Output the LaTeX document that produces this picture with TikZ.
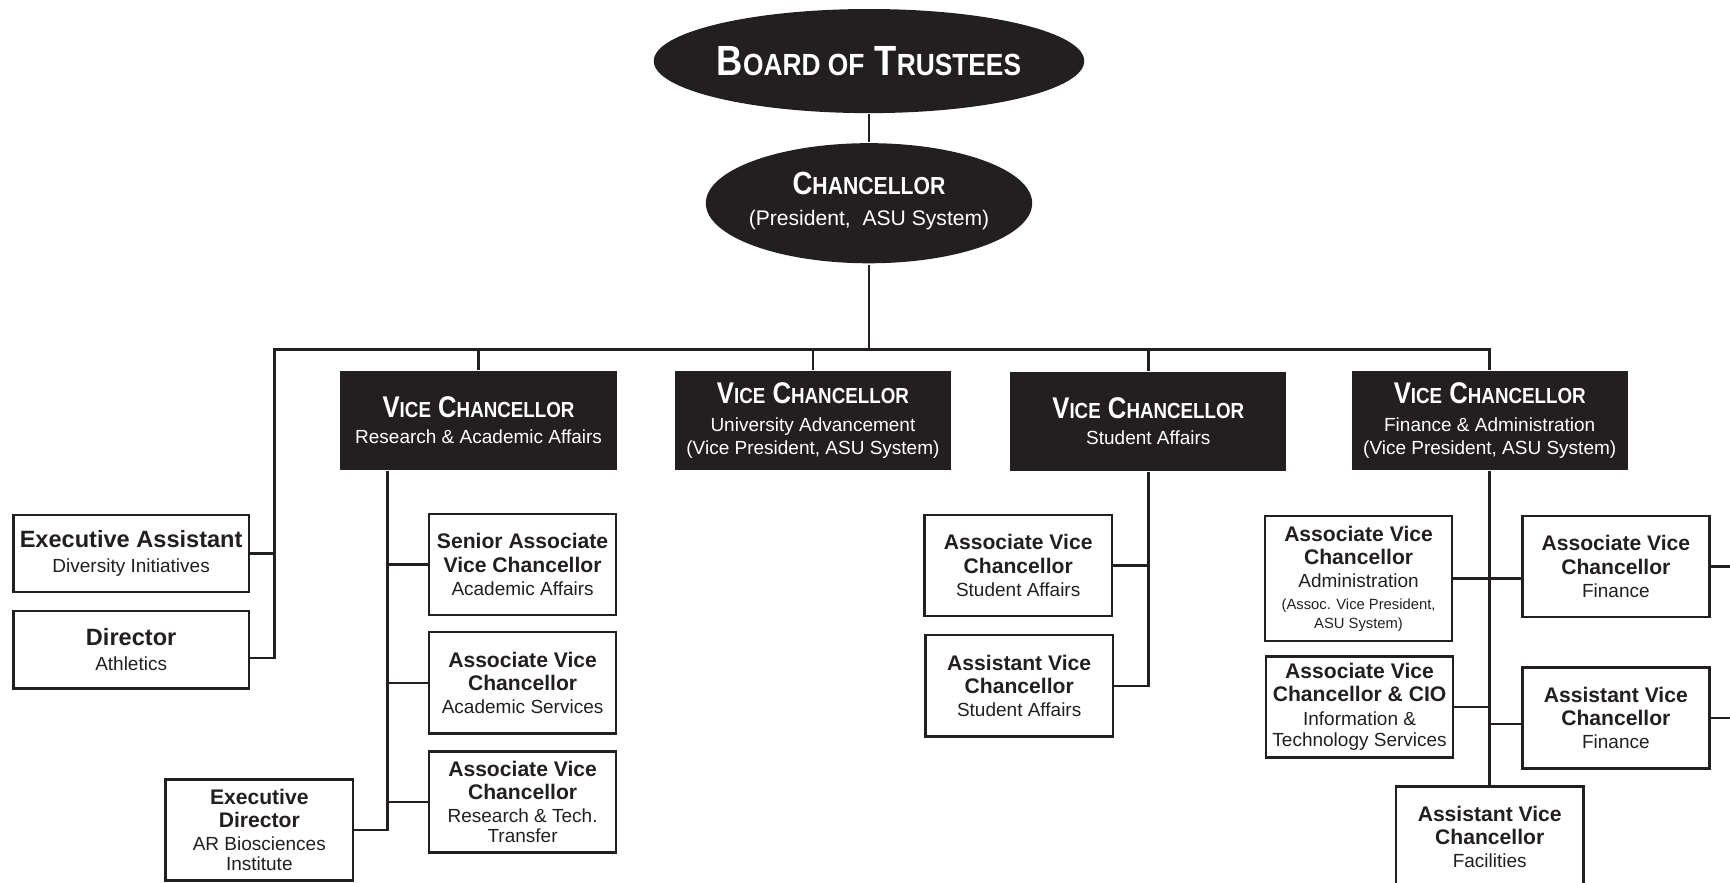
\documentclass[tikz,border=0pt]{standalone}
\usepackage{fontspec}
\setmainfont{Liberation Sans}
\newfontfamily\condsf[FakeStretch=0.86]{Liberation Sans}
\usepackage{tikz}
\usetikzlibrary{shapes.geometric}
\definecolor{ink}{RGB}{35,31,32}
\newcommand{\smc}[2]{{\fontsize{#1}{#1}\selectfont #2}}
\newcommand{\vctitle}{{\condsf\bfseries\fontsize{8.5}{9}\selectfont V\smc{6.2}{ICE} C\smc{6.2}{HANCELLOR}}}
\newcommand{\hd}[2][6]{{\fontsize{#1}{7}\selectfont\bfseries #2}}

\begin{document}
\begin{tikzpicture}[color=ink, line width=0.25mm,
 head/.style={ellipse, fill=ink, text=white, inner sep=0pt, inner xsep=-4mm, align=center},
 vcbox/.style={rectangle, fill=ink, text=white, inner sep=0pt, minimum width=2.76cm,
   minimum height=0.98cm, align=center, font=\fontsize{5.4}{6.6}\selectfont},
 unit/.style={draw, rectangle, fill=white, inner sep=0pt, minimum width=1.87cm,
   minimum height=1.01cm, align=center, font=\fontsize{5.4}{6.6}\selectfont}]
\useasboundingbox (0, 0) rectangle (17.28, -8.81);
% top
\node[head, minimum width=4.30cm, minimum height=1.04cm] (board) at (8.68, -0.61)
 {{\condsf\bfseries\fontsize{12}{13}\selectfont B\smc{8.7}{OARD OF} T\smc{8.7}{RUSTEES}}};
\node[head, minimum width=3.26cm, minimum height=1.20cm, font=\fontsize{6}{8}\selectfont] (chanc) at (8.68, -2.03)
 {{\condsf\bfseries\fontsize{9.1}{10}\selectfont C\smc{7}{HANCELLOR}}\\[1pt](President,\ \ ASU System)\\[-5.5pt]};
% vice chancellors
\node[vcbox] (vcra) at (4.78, -4.20) {\vctitle\\[0.8pt]Research \& Academic Affairs};
\node[vcbox] (vcua) at (8.12, -4.20) {\vctitle\\[1.2pt]University Advancement\\(Vice President, ASU System)};
\node[vcbox] (vcsa) at (11.47, -4.21) {\vctitle\\[0.8pt]Student Affairs};
\node[vcbox] (vcfa) at (14.88, -4.20) {\vctitle\\[1.2pt]Finance \& Administration\\(Vice President, ASU System)};
% left of the bus
\node[unit, minimum width=2.35cm, minimum height=0.77cm] (exasst) at (1.31, -5.53)
 {\hd[6.7]{Executive Assistant}\\[0.5pt]Diversity Initiatives};
\node[unit, minimum width=2.35cm, minimum height=0.77cm] (dirath) at (1.31, -6.49)
 {\hd[6.7]{Director}\\[0.5pt]Athletics};
% research & academic affairs
\node[unit] (savc) at (5.22, -5.64) {\hd{Senior Associate}\\\hd{Vice Chancellor}\\Academic Affairs};
\node[unit] (avcacad) at (5.22, -6.82) {\hd{Associate Vice}\\\hd{Chancellor}\\Academic Services};
\node[unit] (avcres) at (5.22, -8.01) {\hd{Associate Vice}\\\hd{Chancellor}\\Research \& Tech.\\[-0.8pt]Transfer};
\node[unit] (exdir) at (2.59, -8.29) {\hd{Executive}\\\hd{Director}\\AR Biosciences\\[-1pt]Institute};
% student affairs
\node[unit] (avcstu) at (10.17, -5.65) {\hd{Associate Vice}\\\hd{Chancellor}\\Student Affairs};
\node[unit] (asvcstu) at (10.18, -6.85) {\hd{Assistant Vice}\\\hd{Chancellor}\\Student Affairs};
% finance & administration
\node[unit, minimum height=1.25cm] (avcadm) at (13.57, -5.78)
 {\hd{Associate Vice}\\\hd{Chancellor}\\Administration\\[-0.6pt]{\fontsize{4.2}{5}\selectfont (Assoc. Vice President,}\\[-1.2pt]{\fontsize{4.2}{5}\selectfont ASU System)}};
\node[unit] (avccio) at (13.58, -7.06) {\hd{Associate Vice}\\\hd{Chancellor \& CIO}\\Information \&\\[-0.6pt]Technology Services};
\node[unit] (avcfin) at (16.14, -5.66) {\hd{Associate Vice}\\\hd{Chancellor}\\Finance};
\node[unit] (asvcfin) at (16.14, -7.17) {\hd{Assistant Vice}\\\hd{Chancellor}\\Finance};
\node[unit] (asvcfac) at (14.88, -8.36) {\hd{Assistant Vice}\\\hd{Chancellor}\\Facilities};
\coordinate (bus) at (8.68, -3.49);
\coordinate (busl) at (2.74, -3.49);
\coordinate (raspine) at (3.87, -4.68);
\coordinate (rim) at (17.45, 0);
% connectors
\draw (board.south) -- (chanc.north);
\draw (chanc.south) -- (bus);
\draw ([yshift=-0.08cm]dirath.east) -| (busl) -- (vcfa.north |- bus) -- (vcfa.north);
\draw (exasst.east) -- (exasst.east -| busl);
\draw (vcra.north |- bus) -- (vcra.north);
\draw (vcua.north |- bus) -- (vcua.north);
\draw (vcsa.north |- bus) -- (vcsa.north);
\draw (vcra.south -| raspine) -- (exdir.east -| raspine) -- (exdir.east);
\draw (savc.west) -- (savc.west -| raspine);
\draw (avcacad.west) -- (avcacad.west -| raspine);
\draw (avcres.west) -- (avcres.west -| raspine);
\draw (vcsa.south) -- (asvcstu.east -| vcsa.south) -- (asvcstu.east);
\draw (avcstu.east) -- (avcstu.east -| vcsa.south);
\draw (vcfa.south) -- (asvcfac.north);
\draw (avcadm.east) -- (avcadm.east -| avcfin.west);
\draw (avccio.east) -- (avccio.east -| vcfa.south);
\draw ([yshift=-0.06cm]asvcfin.west) -- ([yshift=-0.06cm]asvcfin.west -| vcfa.south);
\draw (avcfin.east) -- (avcfin.east -| rim);
\draw (asvcfin.east) -- (asvcfin.east -| rim);
\end{tikzpicture}
\end{document}
